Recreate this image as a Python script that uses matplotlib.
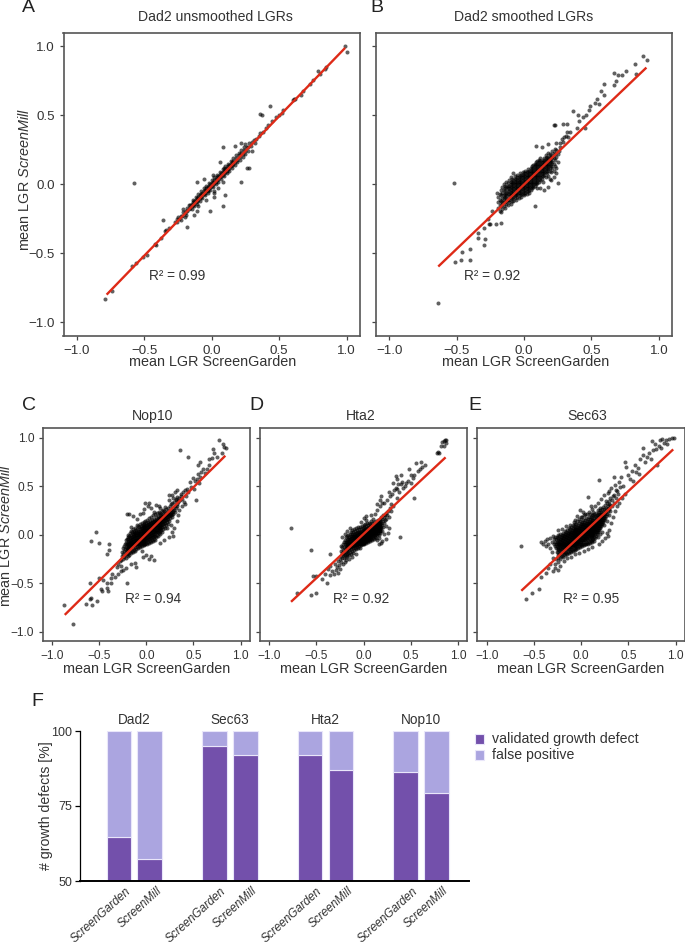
import matplotlib
matplotlib.use('Agg')
import matplotlib.pyplot as plt

plt.rcParams['font.family'] = ['Liberation Sans', 'DejaVu Sans']
plt.rcParams['mathtext.fontset'] = 'custom'
plt.rcParams['mathtext.rm'] = 'Liberation Sans'
plt.rcParams['mathtext.it'] = 'Liberation Sans:italic'

W, H = 685, 942
TXT = '#333333'

# LGR points, in hundredths: (ScreenGarden, ScreenMill)
dad2_raw = [(-79,-83),(-74,-77),(-58,1),(-59,-59),(-56,-57),(-51,-53),(-48,-51),(-41,-44),(-42,-43),(-38,-39),(-36,-26),(-35,-34),(-34,-33),(-32,-32),
    (-18,-31),(-26,-25),(-20,-24),(-13,-22),(-11,-19),(-10,-16),(-1,-19),(8,-16),(10,-8),(2,-9),(-4,-11),(22,2),(-11,2),(-6,4),(1,7),(6,16),(8,27),(17,28),
    (22,30),(25,29),(30,24),(26,12),(28,12),(36,51),(37,50),(43,57),(2,-5),(2,-6),(8,2),(5,-3),(9,12),(-3,-5),
    (38,38),(40,41),(42,43),(45,46),(48,49),(50,50),(52,52),(53,54),(60,61),(61,62),(62,62),(66,65),(68,68),(73,73),(75,76),(79,82),(80,80),(84,84),(85,85),(99,100),(100,96),
    (-27,-27),(-26,-27),(-25,-24),(-24,-25),(-23,-23),(-22,-23),(-21,-20),(-20,-21),(-19,-19),(-18,-19),(-18,-17),(-17,-18),(-16,-15),(-16,-17),(-15,-16),(-15,-14),
    (-14,-15),(-14,-13),(-13,-14),(-13,-12),(-12,-13),(-12,-11),(-11,-12),(-11,-10),(-10,-11),(-10,-9),(-9,-10),(-9,-8),(-8,-9),(-8,-7),(-7,-8),(-7,-6),(-6,-7),(-6,-5),
    (-5,-6),(-5,-4),(-4,-5),(-4,-3),(-3,-4),(-3,-2),(-2,-3),(-2,-1),(-1,-2),(-1,0),(0,-1),(0,1),(1,0),(1,2),(2,1),(2,3),(3,2),(3,4),(4,3),(4,5),(5,4),(5,6),(6,5),(6,7),
    (7,6),(7,8),(8,7),(8,9),(9,8),(9,10),(10,9),(10,11),(11,10),(11,12),(12,11),(12,13),(13,12),(13,14),(14,13),(14,15),(15,14),(15,16),(16,15),(16,17),(17,16),(18,19),
    (19,18),(20,21),(21,20),(22,23),(23,22),(24,25),(25,24),(26,27),(27,27),(29,28),(30,31),(31,32),(33,33),(35,35),(36,37)]
dad2_raw_core = [(-23,-26),(-21,-18),(-19,-22),(-17,-15),(-15,-18),(-14,-11),(-13,-16),(-12,-9),(-11,-14),(-10,-7),(-9,-12),(-8,-5),(-7,-10),(-6,-3),(-5,-8),(-4,-1),(-3,-6),(-2,1),(-1,-4),(0,3),(1,-2),(2,5),(3,0),(4,7),(5,2),(6,9),(7,4),(8,11),(9,6),(10,13),(11,8),(12,15),(13,10),(14,17),(15,12),(16,19),(17,14),(18,21),(19,16),(20,23),(21,18),(22,25),(23,20),(24,27),(25,22),(27,24),(28,30),(32,30)]

dad2_smooth = [(-64,-86),(-52,1),(-51,-56),(-47,-55),(-46,-49),(-40,-55),(-40,-47),(-30,-44),(-29,-40),(-34,-39),(-34,-35),(-30,-32),(-27,-25),(-25,-29),(-26,-29),(-21,-29),(-17,-28),(-24,-19),
    (8,-16),(25,1),(88,93),(91,90),(82,87),(76,82),(73,79),(70,79),(67,81),(68,75),(67,72),(83,80),(59,73),(57,68),(59,65),(54,62),(56,58),(53,59),(49,57),(48,54),(46,50),(44,49),(40,50),(41,46),
    (36,53),(45,41),(39,41),(22,43),(23,43),(29,44),(32,44),(32,38),(34,38),(30,34),(28,33),(9,28),(18,29),(13,27),(24,30),(-8,8),(-20,-6),(15,-4),(12,-3),(18,-2),(20,3),(22,5),(24,8),(23,13),(25,16),
    (-19,-17),(-19,-13),(-19,-9),(-18,-19),(-18,-15),(-18,-11),(-18,-7),(-17,-20),(-17,-16),(-17,-12),(-17,-8),(-17,-4),(-16,-18),(-16,-14),(-16,-10),(-16,-6),(-16,-2),(-15,-16),(-15,-12),(-15,-8),(-15,-4),(-15,0),
    (-14,-17),(-14,-13),(-14,-9),(-14,-5),(-14,-1),(-13,-14),(-13,-10),(-13,-6),(-13,-2),(-13,2),(-12,-15),(-12,-11),(-12,-7),(-12,-3),(-12,1),(-11,-13),(-11,-9),(-11,-5),(-11,-1),(-11,3),
    (-10,-14),(-10,-10),(-10,-6),(-10,-2),(-10,2),(-10,5),(-9,-12),(-9,-8),(-9,-4),(-9,0),(-9,4),(-8,-12),(-8,-9),(-8,-5),(-8,-1),(-8,3),(-7,-10),(-7,-6),(-7,-2),(-7,2),(-7,6),
    (-6,-11),(-6,-8),(-6,-4),(-6,0),(-6,4),(-5,-9),(-5,-5),(-5,-1),(-5,3),(-5,7),(-4,-10),(-4,-6),(-4,-2),(-4,2),(-4,5),(-3,-8),(-3,-4),(-3,0),(-3,4),(-3,8),(-2,-9),(-2,-5),(-2,-1),(-2,3),(-2,7),
    (-1,-7),(-1,-3),(-1,1),(-1,5),(-1,9),(0,-8),(0,-4),(0,0),(0,4),(0,8),(1,-6),(1,-2),(1,2),(1,6),(1,10),(2,-7),(2,-3),(2,1),(2,5),(2,9),(3,-5),(3,-1),(3,3),(3,7),(3,11),(4,-6),(4,-2),(4,2),(4,6),(4,10),
    (5,-4),(5,0),(5,4),(5,8),(5,12),(6,-3),(6,1),(6,5),(6,9),(6,13),(7,-2),(7,2),(7,6),(7,10),(7,14),(8,-1),(8,3),(8,7),(8,11),(8,15),(9,0),(9,4),(9,8),(9,12),(9,16),(10,-3),(10,1),(10,5),(10,9),(10,13),(10,17),
    (11,2),(11,6),(11,10),(11,14),(11,18),(12,3),(12,7),(12,11),(12,15),(12,19),(13,4),(13,8),(13,12),(13,16),(14,2),(14,6),(14,10),(14,14),(14,18),(15,7),(15,11),(15,15),(15,19),(16,5),(16,9),(16,13),(16,17),(16,21),
    (17,8),(17,12),(17,16),(17,20),(18,6),(18,11),(18,15),(18,19),(18,23),(19,4),(19,10),(19,14),(19,18),(19,22),(20,9),(20,13),(20,17),(20,21),(21,12),(21,16),(21,20),(21,24),(22,10),(22,15),(22,19),(22,23),(23,18),(23,22),(23,26),
    (24,12),(24,20),(24,25),(25,22),(26,24),(27,27),(27,30),(29,31),(31,35),(33,34)]
dad2_smooth_core = [(-16,-13),(-15,-10),(-14,-7),(-14,-3),(-13,-12),(-13,-8),(-12,-5),(-12,-1),(-11,-11),(-11,-7),(-11,-3),(-10,-8),(-10,-4),(-10,0),(-9,-10),(-9,-6),(-9,-2),(-9,2),(-8,-7),(-8,-3),(-8,1),(-7,-8),(-7,-4),(-7,0),(-7,4),(-6,-6),(-6,-2),(-6,2),(-5,-7),(-5,-3),(-5,1),(-5,5),(-4,-4),(-4,0),(-4,3),(-3,-6),(-3,-2),(-3,2),(-3,6),(-2,-7),(-2,-3),(-2,1),(-2,5),(-1,-5),(-1,-1),(-1,3),(-1,7),(0,-6),(0,-2),(0,2),(0,6),(1,-4),(1,0),(1,4),(1,8),(2,-5),(2,-1),(2,3),(2,7),(3,-3),(3,1),(3,5),(3,9),(4,-4),(4,0),(4,4),(4,8),(5,-2),(5,2),(5,6),(5,10),(6,-1),(6,3),(6,7),(6,11),(7,0),(7,4),(7,8),(7,12),(8,1),(8,5),(8,9),(8,13),(9,2),(9,6),(9,10),(9,14),(10,3),(10,7),(10,11),(10,15),(11,4),(11,8),(11,12),(11,16),(12,5),(12,9),(12,13),(12,17),(13,6),(13,10),(13,14),(14,8),(14,12),(14,16),(15,9),(15,13),(15,17),(16,11),(16,15),(16,19),(17,10),(17,14),(17,18),(18,13),(18,17),(19,12),(19,16),(19,20),(20,15),(20,19)]

nop10 = [(-87,-73),(-78,-92),(-64,-71),(-60,-50),(-60,-66),(-58,-72),(-52,-68),(-59,-65),(-53,3),(-59,-6),(-50,-8),(-40,-10),(-42,-20),(-40,-16),(-50,-45),(-48,-56),(-47,-58),(-42,-50),(-42,-55),(-41,-58),(-46,-47),(-38,-45),
    (-37,-50),(-21,-50),(-36,-40),(-33,-44),(-30,-40),(-27,-37),(-31,-33),(-30,-30),(-28,-27),(-27,-32),(-25,-36),(-22,-34),(-16,-30),(-12,-29),(-11,-33),(3,-25),(5,-22),(8,-26),(-4,-23),(-5,-17),(0,-21),(-18,-9),(-20,-2),
    (-22,-5),(-24,-12),(-21,-14),(-21,22),(-18,22),(-14,19),(-10,16),(-10,10),(-16,8),(-13,4),(-7,21),(-4,23),(-2,27),(3,33),(-1,33),(2,30),(5,28),(8,24),(10,31),(13,30),(15,28),(18,26),(20,29),(24,36),(27,41),(24,41),(26,32),(28,38),
    (30,44),(31,37),(33,46),(34,35),(37,42),(38,37),(40,34),(42,40),(44,44),(36,88),(44,80),(53,36),(51,47),(47,49),(46,55),(50,59),(52,56),(54,58),(56,53),(55,63),(58,65),(57,60),(60,68),(62,64),(55,72),(57,75),(64,68),(66,72),(70,79),(66,78),(77,98),(72,85),(71,89),(82,91),(84,90),(81,94),(80,85),(75,80),(29,7),(27,3),(24,-2),(19,-5),(14,-8),(26,10),(22,7),(32,14),(34,20),(35,26),(38,30),(41,32),(28,-1),
    (-27,-26),(-26,-22),(-26,-18),(-25,-25),(-25,-20),(-25,-14),(-24,-23),(-24,-17),(-23,-21),(-23,-15),(-23,-10),(-22,-24),(-22,-18),(-22,-13),(-22,-8),(-21,-20),(-21,-16),(-21,-10),(-21,-4),(-20,-22),(-20,-17),(-20,-12),(-20,-7),
    (-19,-19),(-19,-14),(-19,-9),(-19,-4),(-19,0),(-18,-21),(-18,-16),(-18,-11),(-18,-6),(-18,-1),(-17,-18),(-17,-13),(-17,-8),(-17,-3),(-17,2),(-16,-19),(-16,-15),(-16,-10),(-16,-5),(-16,0),(-16,4),
    (-15,-17),(-15,-12),(-15,-7),(-15,-2),(-15,3),(-14,-18),(-14,-14),(-14,-9),(-14,-4),(-14,1),(-14,6),(-13,-16),(-13,-11),(-13,-6),(-13,-1),(-13,3),(-12,-17),(-12,-13),(-12,-8),(-12,-3),(-12,2),(-12,7),
    (-11,-15),(-11,-10),(-11,-5),(-11,0),(-11,5),(-10,-13),(-10,-8),(-10,-3),(-10,2),(-10,6),(-9,-14),(-9,-10),(-9,-5),(-9,0),(-9,4),(-9,9),(-8,-12),(-8,-7),(-8,-2),(-8,3),(-8,8),(-7,-13),(-7,-9),(-7,-4),(-7,1),(-7,6),(-7,11),
    (-6,-11),(-6,-6),(-6,-1),(-6,4),(-6,9),(-5,-12),(-5,-8),(-5,-3),(-5,2),(-5,7),(-5,12),(-4,-10),(-4,-5),(-4,0),(-4,5),(-4,10),(-3,-11),(-3,-7),(-3,-2),(-3,3),(-3,8),(-3,13),(-2,-9),(-2,-4),(-2,1),(-2,6),(-2,11),
    (-1,-10),(-1,-6),(-1,-1),(-1,4),(-1,9),(-1,14),(0,-8),(0,-3),(0,2),(0,7),(0,12),(1,-9),(1,-5),(1,0),(1,5),(1,10),(1,15),(2,-7),(2,-2),(2,3),(2,8),(2,13),(3,-8),(3,-4),(3,1),(3,6),(3,11),(3,17),
    (4,-6),(4,-1),(4,4),(4,9),(4,14),(5,-7),(5,-3),(5,2),(5,7),(5,12),(5,18),(6,-5),(6,0),(6,5),(6,10),(6,15),(7,-6),(7,-2),(7,3),(7,8),(7,13),(7,20),(8,-4),(8,1),(8,6),(8,11),(8,16),(9,-5),(9,-1),(9,4),(9,9),(9,14),(9,21),
    (10,-2),(10,3),(10,8),(10,13),(10,18),(11,0),(11,5),(11,10),(11,15),(11,23),(12,-1),(12,3),(12,8),(12,13),(12,19),(13,2),(13,7),(13,12),(13,17),(13,24),(14,4),(14,9),(14,14),(14,20),(15,1),(15,7),(15,12),(15,17),(15,23),
    (16,5),(16,10),(16,15),(16,21),(17,3),(17,8),(17,13),(17,18),(17,25),(18,6),(18,11),(18,16),(18,22),(19,9),(19,14),(19,19),(19,25),(20,7),(20,12),(20,17),(20,23),(21,10),(21,15),(21,20),(21,27),(22,13),(22,18),(22,24),
    (23,11),(23,16),(23,21),(23,28),(24,14),(24,19),(24,25),(25,17),(25,22),(25,30),(26,20),(26,26),(27,18),(27,24),(27,33),(28,22),(28,28),(29,26),(29,34),(30,24),(30,30),(31,28),(31,36),(32,32),(33,30),(33,39),(34,34),(35,38),(36,36),(37,40),(39,44),(41,46),(43,47)]
nop10_core = [(-20,-15),(-19,-11),(-18,-13),(-18,-8),(-17,-10),(-17,-5),(-16,-12),(-16,-7),(-16,-2),(-15,-9),(-15,-4),(-14,-11),(-14,-6),(-14,-1),(-13,-8),(-13,-3),(-13,1),(-12,-10),(-12,-5),(-12,0),(-11,-7),(-11,-2),(-11,3),(-10,-10),(-10,-5),(-10,0),(-9,-7),(-9,-2),(-9,2),(-8,-9),(-8,-4),(-8,1),(-7,-6),(-7,-1),(-7,4),(-6,-8),(-6,-3),(-6,2),(-6,7),(-5,-5),(-5,0),(-5,4),(-4,-7),(-4,-2),(-4,3),(-4,8),(-3,-4),(-3,1),(-3,6),(-2,-6),(-2,-1),(-2,4),(-2,9),(-1,-3),(-1,2),(-1,7),(0,-5),(0,0),(0,5),(0,10),(1,-2),(1,3),(1,8),(2,-4),(2,1),(2,6),(2,11),(3,-1),(3,4),(3,9),(4,-3),(4,2),(4,7),(4,12),(5,0),(5,5),(5,10),(6,-2),(6,3),(6,8),(6,13),(7,1),(7,6),(7,11),(8,-1),(8,4),(8,9),(8,14),(9,2),(9,7),(9,12),(10,5),(10,10),(10,15),(11,3),(11,8),(11,13),(12,6),(12,11),(12,16),(13,5),(13,10),(13,15),(14,7),(14,12),(14,17),(15,10),(15,15),(16,8),(16,13),(16,18),(17,11),(17,16),(18,14),(18,19),(19,12),(19,17),(20,15),(20,20),(21,18),(22,16),(22,21),(23,19),(24,22),(25,20),(26,23),(27,21),(28,25)]

hta2 = [(-77,7),(-56,-16),(-70,-60),(-56,-62),(-50,-60),(-53,-43),(-50,-43),(-44,-46),(-39,-50),(-36,-20),(39,-2),(54,38),(-41,-41),(-38,-35),(-36,-42),(-35,-32),(-33,-37),(-31,-41),(-30,-30),(-29,-36),(-28,-33),(-27,-27),(-27,-39),(-26,-31),(-25,-35),(-25,-25),
    (-24,-12),(-23,-2),(-20,1),(-17,4),(-14,7),(-17,-1),(-21,-20),(-20,-28),(-15,-25),(-12,-23),(-8,-20),(-4,-14),(-19,-26),(-24,-28),(-22,-30),(-3,13),(0,17),(3,15),(6,12),(3,19),(8,20),(10,16),(12,22),(14,26),(17,30),(14,32),(20,33),(18,36),(22,33),(25,36),(28,40),(19,40),(27,44),(30,42),(32,46),(34,48),(36,38),(38,44),(40,52),
    (41,55),(42,48),(44,50),(45,54),(47,56),(50,53),(52,59),(54,62),(58,66),(60,68),(62,70),(65,72),(61,75),(56,74),(50,62),(48,68),(40,62),(36,58),(34,61),(35,47),(31,53),(37,52),(78,85),(79,86),(80,85),(82,92),(83,96),(85,92),(85,97),(86,98),(87,95),(87,98),(24,-4),(20,-6),(22,1),(19,-8),(16,-3),(14,-5),(26,2),(27,7),(24,9),(16,-9),(20,4),(23,15),(27,18),(29,25),(31,30),
    (-24,-22),(-24,-17),(-23,-24),(-23,-19),(-23,-13),(-22,-21),(-22,-16),(-22,-10),(-21,-24),(-21,-18),(-21,-13),(-21,-7),(-20,-21),(-20,-15),(-20,-10),(-20,-5),(-19,-23),(-19,-18),(-19,-12),(-19,-7),(-19,-2),(-18,-20),(-18,-15),(-18,-10),(-18,-5),(-17,-22),(-17,-17),(-17,-12),(-17,-7),
    (-16,-19),(-16,-14),(-16,-9),(-16,-4),(-16,0),(-15,-21),(-15,-16),(-15,-11),(-15,-6),(-15,-2),(-14,-18),(-14,-13),(-14,-9),(-14,-4),(-14,1),(-13,-20),(-13,-15),(-13,-11),(-13,-6),(-13,-1),(-13,3),(-12,-17),(-12,-12),(-12,-8),(-12,-3),(-12,1),(-12,5),
    (-11,-19),(-11,-14),(-11,-10),(-11,-5),(-11,-1),(-11,3),(-10,-16),(-10,-12),(-10,-7),(-10,-3),(-10,1),(-10,6),(-9,-14),(-9,-9),(-9,-5),(-9,-1),(-9,4),(-8,-15),(-8,-11),(-8,-7),(-8,-3),(-8,2),(-8,7),(-7,-13),(-7,-9),(-7,-4),(-7,0),(-7,5),
    (-6,-14),(-6,-10),(-6,-6),(-6,-2),(-6,3),(-6,8),(-5,-12),(-5,-8),(-5,-4),(-5,1),(-5,6),(-4,-10),(-4,-6),(-4,-1),(-4,3),(-4,8),(-3,-11),(-3,-7),(-3,-3),(-3,1),(-3,6),(-2,-9),(-2,-5),(-2,-1),(-2,4),(-2,9),(-1,-10),(-1,-6),(-1,-2),(-1,2),(-1,7),
    (0,-8),(0,-4),(0,0),(0,5),(0,10),(1,-9),(1,-5),(1,-1),(1,3),(1,8),(2,-7),(2,-3),(2,1),(2,6),(2,11),(3,-8),(3,-4),(3,0),(3,4),(3,9),(4,-6),(4,-2),(4,2),(4,7),(4,12),(5,-7),(5,-3),(5,1),(5,5),(5,10),(6,-5),(6,-1),(6,3),(6,8),
    (7,-6),(7,-2),(7,2),(7,6),(7,11),(8,-4),(8,0),(8,4),(8,9),(8,14),(9,-5),(9,-1),(9,3),(9,7),(9,12),(10,-3),(10,1),(10,5),(10,10),(11,-4),(11,0),(11,4),(11,8),(11,13),(12,-2),(12,2),(12,6),(12,11),(13,-3),(13,1),(13,5),(13,9),(13,14),
    (14,0),(14,4),(14,8),(14,12),(15,2),(15,6),(15,10),(15,15),(16,0),(16,4),(16,8),(16,13),(17,2),(17,6),(17,11),(17,16),(18,4),(18,9),(18,14),(19,7),(19,12),(19,18),(20,10),(20,16),(21,8),(21,14),(21,20),(22,12),(22,18),(23,20),(24,16),(24,23),(25,20),(26,25),(28,28),(29,32)]
hta2_core = [(-18,-13),(-17,-15),(-17,-10),(-16,-12),(-16,-7),(-15,-14),(-15,-9),(-15,-4),(-14,-11),(-14,-6),(-13,-13),(-13,-8),(-13,-3),(-12,-10),(-12,-6),(-12,-1),(-11,-12),(-11,-8),(-11,-3),(-10,-9),(-10,-5),(-10,-1),(-9,-11),(-9,-7),(-9,-3),(-9,1),(-8,-9),(-8,-5),(-8,-1),(-7,-11),(-7,-6),(-7,-2),(-7,2),(-6,-8),(-6,-4),(-6,0),(-5,-10),(-5,-6),(-5,-2),(-5,3),(-4,-8),(-4,-3),(-4,1),(-3,-9),(-3,-5),(-3,-1),(-3,3),(-2,-7),(-2,-3),(-2,1),(-1,-8),(-1,-4),(-1,0),(-1,4),(0,-6),(0,-2),(0,2),(1,-7),(1,-3),(1,1),(1,5),(2,-5),(2,-1),(2,3),(3,-6),(3,-2),(3,2),(3,6),(4,-4),(4,0),(4,4),(5,-5),(5,-1),(5,3),(5,7),(6,-3),(6,1),(6,5),(7,-4),(7,0),(7,4),(7,8),(8,-2),(8,2),(8,6),(9,1),(9,5),(9,9),(10,-1),(10,3),(10,7),(11,2),(11,6),(11,10),(12,0),(12,4),(12,8),(13,3),(13,7),(13,11),(14,2),(14,6),(14,10),(15,4),(15,8),(15,12),(16,6),(16,10),(17,4),(17,8),(17,13),(18,7),(18,11)]

sec63 = [(-64,-12),(-58,-66),(-52,-60),(-45,-56),(-42,-44),(-37,-39),(-30,-37),(-42,-7),(-40,-10),(-38,-6),(-37,-12),(-35,-9),(-36,-4),(-33,-3),(-33,-14),(-31,-7),(-31,-18),(-30,-1),(-30,-24),(-28,-30),(-28,-34),(-25,-36),(-35,-34),(-33,-30),(-27,-25),(-24,-28),(-22,-32),(-20,-22),(-18,-27),(-15,-24),(-11,-23),(-6,-20),(-2,-19),(3,-17),(7,-15),(12,-13),
    (-24,5),(-20,6),(-16,9),(-12,10),(-8,13),(-6,15),(-4,19),(-1,26),(7,39),(19,57),(35,60),(0,18),(4,21),(2,24),(8,24),(12,27),(10,30),(15,30),(18,33),(21,37),(20,28),(24,41),(26,35),(28,43),(30,45),(32,48),(34,40),(36,51),(38,45),(40,55),(42,60),(44,50),(46,75),(48,70),(50,62),(52,58),(54,66),(55,56),(57,72),(58,65),(60,69),(61,63),(62,78),(65,82),(66,90),(68,75),(70,80),(72,85),(74,78),
    (75,97),(79,89),(80,72),(84,98),(76,88),(78,94),(82,92),(86,99),(88,95),(90,98),(93,99),(96,100),(98,100),(91,94),(85,90),(30,5),(28,-1),(25,-3),(22,-6),(19,-9),(32,12),(34,18),(36,25),(38,30),(40,33),(43,38),(46,42),(27,2),
    (-29,-9),(-29,-4),(-28,-12),(-28,-7),(-28,-2),(-27,-14),(-27,-9),(-27,-4),(-26,-18),(-26,-12),(-26,-7),(-26,-2),(-25,-21),(-25,-15),(-25,-10),(-25,-5),(-25,0),(-24,-24),(-24,-18),(-24,-13),(-24,-8),(-24,-3),(-23,-21),(-23,-16),(-23,-11),(-23,-6),(-23,-1),(-22,-25),(-22,-19),(-22,-14),(-22,-9),(-22,-4),(-22,1),
    (-21,-22),(-21,-17),(-21,-12),(-21,-7),(-21,-2),(-20,-19),(-20,-15),(-20,-10),(-20,-5),(-20,0),(-19,-23),(-19,-18),(-19,-13),(-19,-8),(-19,-3),(-19,2),(-18,-20),(-18,-16),(-18,-11),(-18,-6),(-18,-1),(-17,-21),(-17,-18),(-17,-14),(-17,-9),(-17,-4),(-17,1),(-17,4),
    (-16,-19),(-16,-16),(-16,-12),(-16,-7),(-16,-2),(-16,3),(-15,-20),(-15,-14),(-15,-10),(-15,-5),(-15,0),(-15,5),(-14,-18),(-14,-12),(-14,-8),(-14,-3),(-14,2),(-13,-19),(-13,-15),(-13,-10),(-13,-6),(-13,-1),(-13,4),(-13,7),(-12,-17),(-12,-13),(-12,-8),(-12,-4),(-12,1),(-12,6),
    (-11,-18),(-11,-15),(-11,-11),(-11,-6),(-11,-2),(-11,3),(-11,8),(-10,-16),(-10,-13),(-10,-9),(-10,-4),(-10,0),(-10,5),(-9,-17),(-9,-11),(-9,-7),(-9,-2),(-9,2),(-9,7),(-9,10),(-8,-15),(-8,-9),(-8,-5),(-8,0),(-8,4),(-8,9),(-7,-16),(-7,-12),(-7,-7),(-7,-3),(-7,2),(-7,6),(-7,11),
    (-6,-14),(-6,-10),(-6,-5),(-6,-1),(-6,4),(-6,8),(-5,-15),(-5,-12),(-5,-8),(-5,-3),(-5,1),(-5,6),(-5,11),(-4,-13),(-4,-10),(-4,-6),(-4,-1),(-4,3),(-4,8),(-4,14),(-3,-14),(-3,-8),(-3,-4),(-3,1),(-3,5),(-3,10),(-2,-12),(-2,-6),(-2,-2),(-2,3),(-2,7),(-2,12),(-2,16),
    (-1,-13),(-1,-9),(-1,-4),(-1,0),(-1,5),(-1,9),(-1,14),(0,-11),(0,-7),(0,-2),(0,2),(0,7),(0,11),(1,-12),(1,-9),(1,-5),(1,0),(1,4),(1,9),(1,13),(1,18),(2,-10),(2,-7),(2,-3),(2,2),(2,6),(2,11),(2,15),(3,-11),(3,-5),(3,-1),(3,4),(3,8),(3,13),(3,20),
    (4,-9),(4,-3),(4,1),(4,6),(4,10),(4,15),(5,-10),(5,-7),(5,-1),(5,3),(5,8),(5,12),(5,17),(6,-8),(6,-4),(6,1),(6,5),(6,10),(6,14),(6,22),(7,-9),(7,-5),(7,-1),(7,3),(7,7),(7,12),(7,16),(8,-7),(8,-3),(8,1),(8,5),(8,9),(8,14),(8,18),
    (9,-8),(9,-4),(9,0),(9,3),(9,7),(9,11),(9,16),(9,21),(10,-6),(10,-2),(10,2),(10,5),(10,9),(10,13),(10,18),(11,-7),(11,-3),(11,0),(11,4),(11,7),(11,11),(11,15),(11,20),(12,-5),(12,-1),(12,2),(12,6),(12,9),(12,13),(12,17),(13,-4),(13,0),(13,4),(13,8),(13,11),(13,15),(13,20),(13,24),
    (14,-6),(14,-2),(14,2),(14,6),(14,10),(14,13),(14,17),(14,22),(15,-3),(15,1),(15,4),(15,8),(15,12),(15,15),(15,19),(16,-1),(16,3),(16,6),(16,10),(16,14),(16,18),(16,23),(17,1),(17,5),(17,8),(17,12),(17,16),(17,20),(18,-2),(18,3),(18,7),(18,10),(18,14),(18,18),(18,22),(18,26),
    (19,5),(19,9),(19,12),(19,16),(19,20),(19,24),(20,1),(20,7),(20,11),(20,14),(20,18),(20,22),(20,26),(21,9),(21,13),(21,16),(21,20),(21,24),(22,3),(22,11),(22,15),(22,18),(22,22),(22,27),(23,13),(23,17),(23,20),(23,24),(23,29),(24,10),(24,15),(24,19),(24,23),(24,27),(25,17),(25,21),(25,25),(25,31),(26,19),(26,24),(26,28),(27,14),(27,22),(27,27),(27,33),(28,25),(28,30),(29,20),(29,28),(29,35),(30,27),(30,32),(31,25),(31,31),(31,38),(33,30),(33,36),(35,33),(35,41),(37,38),(37,46),(39,42),(41,49)]
sec63_core = [(-24,-15),(-23,-9),(-22,-12),(-22,-6),(-21,-15),(-21,-10),(-21,-4),(-20,-13),(-20,-7),(-20,-2),(-19,-11),(-19,-5),(-19,0),(-18,-14),(-18,-8),(-18,-3),(-17,-11),(-17,-6),(-17,-1),(-16,-14),(-16,-9),(-16,-4),(-16,1),(-15,-12),(-15,-7),(-15,-2),(-14,-15),(-14,-10),(-14,-5),(-14,0),(-13,-12),(-13,-8),(-13,-3),(-13,2),(-12,-10),(-12,-6),(-12,-1),(-12,3),(-11,-13),(-11,-8),(-11,-4),(-11,1),(-10,-11),(-10,-6),(-10,-2),(-10,3),(-9,-9),(-9,-4),(-9,0),(-9,5),(-8,-12),(-8,-7),(-8,-2),(-8,2),(-7,-10),(-7,-5),(-7,0),(-7,4),(-6,-8),(-6,-3),(-6,2),(-6,6),(-5,-10),(-5,-5),(-5,-1),(-5,4),(-4,-8),(-4,-3),(-4,1),(-4,6),(-3,-6),(-3,-1),(-3,3),(-3,8),(-2,-9),(-2,-4),(-2,1),(-2,5),(-1,-7),(-1,-2),(-1,3),(-1,7),(0,-5),(0,0),(0,4),(0,9),(1,-3),(1,2),(1,6),(1,11),(2,-5),(2,0),(2,4),(2,9),(3,-3),(3,2),(3,6),(3,11),(4,-5),(4,-1),(4,3),(4,8),(5,-3),(5,1),(5,5),(5,10),(6,-2),(6,3),(6,7),(6,12),(7,1),(7,5),(7,9),(8,-1),(8,3),(8,7),(8,11),(9,2),(9,5),(9,9),(9,13),(10,0),(10,4),(10,7),(10,11),(11,2),(11,5),(11,9),(11,13),(12,0),(12,4),(12,8),(12,11),(13,2),(13,6),(13,9),(14,4),(14,8),(14,11),(15,6),(15,10),(15,13),(16,8),(16,12),(17,3),(17,10),(17,14),(18,5),(18,12),(19,7),(19,14),(20,9),(20,16),(21,11),(21,18),(22,13),(22,20),(23,15),(24,17)]

panels = {
    'A': dad2_raw + dad2_raw_core, 'B': dad2_smooth + dad2_smooth_core, 'C': nop10 + nop10_core,
    'D': hta2 + hta2_core, 'E': sec63 + sec63_core,
}
fit_ends = {
    'A': ((-0.78, 0.99), (-0.80, 0.99)),
    'B': ((-0.636, 0.908), (-0.596, 0.847)),
    'C': ((-0.866, 0.838), (-0.827, 0.817)),
    'D': ((-0.768, 0.87), (-0.692, 0.80)),
    'E': ((-0.634, 0.975), (-0.578, 0.882)),
}
titles = {'A': 'Dad2 unsmoothed LGRs', 'B': 'Dad2 smoothed LGRs', 'C': 'Nop10', 'D': 'Hta2', 'E': 'Sec63'}
r2_text = {'A': 'R² = 0.99', 'B': 'R² = 0.92', 'C': 'R² = 0.94', 'D': 'R² = 0.92', 'E': 'R² = 0.95'}
ticks = [-1.0, -0.5, 0.0, 0.5, 1.0]

# bar panel
strains = ['Dad2', 'Sec63', 'Hta2', 'Nop10']
tools = ['ScreenGarden', 'ScreenMill']
validated = [64.7, 57.5, 95.0, 92.0, 92.0, 87.0, 86.3, 79.4]
bar_ticks = [50, 75, 100]


def ax_px(fig, left, top, right, bottom):
    return fig.add_axes([left / W, 1 - bottom / H, (right - left) / W, (bottom - top) / H])


def ftext(fig, x, y, s, **kw):
    kw.setdefault('ha', 'center')
    kw.setdefault('va', 'center')
    return fig.text(x / W, 1 - y / H, s, **kw)


fig = plt.figure(figsize=(W / 100, H / 100), dpi=100)

# left, top, right, bottom, title x, r2 x, r2 y, xlabel x, xlabel y
layout = {
    'A': (63.5, 32.7, 360, 336, 215.5, 177, 275.7, 212.5, 362),
    'B': (375.7, 32.7, 672.3, 336, 524, 491.7, 275.7, 525.5, 362),
    'C': (42.7, 428.3, 250, 641.3, 153, 152.7, 599, 146.3, 668.7),
    'D': (259.7, 428.3, 467.3, 641.3, 361, 361, 599, 364, 668.7),
    'E': (477.3, 428.3, 685, 641.3, 587, 591, 599, 581, 668.7),
}

for key, pts in panels.items():
    l, t, r, b, title_x, r2_x, r2_y, xlab_x, xlab_y = layout[key]
    top_row = key in 'AB'
    ax = ax_px(fig, l, t, r, b)
    xs = [p[0] / 100 for p in pts]
    ys = [p[1] / 100 for p in pts]
    ax.scatter(xs, ys, s=8.5, c='black', alpha=0.62, linewidths=0, zorder=2)
    ax.plot(fit_ends[key][0], fit_ends[key][1], color='#DE2A17', lw=1.7, zorder=3, solid_capstyle='butt')
    ax.set_xlim(-1.1, 1.1)
    ax.set_ylim(-1.1, 1.1)
    ax.set_xticks(ticks)
    ax.set_yticks(ticks)
    ax.set_xticklabels([f'{v:.1f}'.replace('-', '\u2212') for v in ticks])
    if key in ('A', 'C'):
        ax.set_yticklabels([f'{v:.1f}'.replace('-', '\u2212') for v in ticks])
    else:
        ax.set_yticklabels([])
    ax.tick_params(length=3.2, width=0.9, color='#444444', labelcolor=TXT, labelsize=9.6 if top_row else 8.6, pad=3)
    for s in ax.spines.values():
        s.set_linewidth(1.2)
        s.set_color('#555555')
    ftext(fig, title_x, 16.7 if top_row else 415.7, titles[key], color=TXT, fontsize=10.1)
    ftext(fig, r2_x, r2_y, r2_text[key], color=TXT, fontsize=9.8)
    ftext(fig, xlab_x, xlab_y, 'mean LGR ScreenGarden', color=TXT, fontsize=10.4)

ylab = r'mean LGR $\mathit{ScreenMill}$'
ftext(fig, 25, 180, ylab, rotation=90, color=TXT, fontsize=10.4)
ftext(fig, 5.8, 536, ylab, rotation=90, color=TXT, fontsize=10.4)

for letter, x, y in [('A', 28, 8), ('B', 377, 7), ('C', 29, 406), ('D', 256, 406), ('E', 475, 406), ('F', 37, 702)]:
    ftext(fig, x, y, letter, color='#222222', fontsize=14)

# panel F
DARK = '#7350AB'
LIGHT = '#ABA5E0'
EDGE = '#E9E6FA'
bar_ax = ax_px(fig, 80, 731, 469, 881)
group_step = 3.094
x_pos = []
for g in range(len(strains)):
    x_pos += [g * group_step, g * group_step + 1]
false_pos = [100 - v for v in validated]
bar_ax.bar(x_pos, validated, width=0.8, color=DARK, edgecolor=EDGE, linewidth=0.8, label='validated growth defect')
bar_ax.bar(x_pos, false_pos, width=0.8, bottom=validated, color=LIGHT, edgecolor=EDGE, linewidth=0.8, label='false positive')
bar_ax.set_xlim(-1.26, 11.33)
bar_ax.set_ylim(50, 100)
bar_ax.set_yticks(bar_ticks)
bar_ax.set_xticks(x_pos)
bar_ax.set_xticklabels([])
for s in ('top', 'right'):
    bar_ax.spines[s].set_visible(False)
bar_ax.spines['left'].set_linewidth(0.9)
bar_ax.spines['bottom'].set_linewidth(1.4)
bar_ax.tick_params(axis='x', length=0)
bar_ax.tick_params(axis='y', length=3.5, width=0.9, labelsize=9, labelcolor=TXT, pad=2)
ftext(fig, 46, 806, '# growth defects [%]', rotation=90, color=TXT, fontsize=10.2)

for g, name in enumerate(strains):
    ftext(fig, 134 + g * 95.6, 719.7, name, color=TXT, fontsize=9.8)
    for i, tool in enumerate(tools):
        px = 125 + g * 95.6 + i * 31
        ftext(fig, px, 885, tool, rotation=42, ha='right', va='top', rotation_mode='anchor',
              style='italic', color=TXT, fontsize=8.5)

for y0, col, lab in [(733.7, DARK, 'validated growth defect'), (750, LIGHT, 'false positive')]:
    fig.add_artist(plt.Rectangle((474.7 / W, 1 - (y0 + 10) / H), 9.5 / W, 10 / H, transform=fig.transFigure,
                                 facecolor=col, edgecolor=EDGE, linewidth=0.8))
    ftext(fig, 491.6, y0 + 5, lab, ha='left', color=TXT, fontsize=10.2)

plt.savefig('out.png', dpi=100)
